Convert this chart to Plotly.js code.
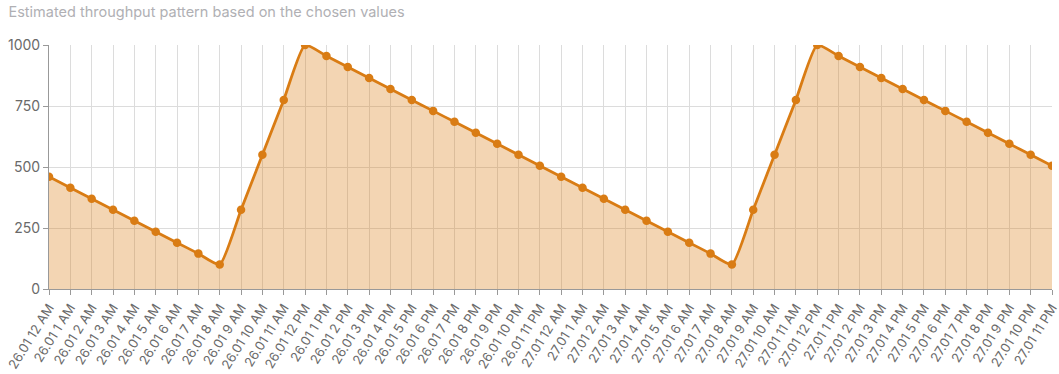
<!DOCTYPE html>
<html>
<head>
<meta charset="utf-8">
<script src="https://cdn.plot.ly/plotly-3.0.1.min.js"></script>
<style>html,body{margin:0;padding:0;background:#fff;}#chart{width:1059px;height:374px;}</style>
</head>
<body>
<div id="chart"></div>
<script>
const days = ["26.01", "27.01"];
const hours = ["12 AM","1 AM","2 AM","3 AM","4 AM","5 AM","6 AM","7 AM","8 AM","9 AM","10 AM","11 AM",
               "12 PM","1 PM","2 PM","3 PM","4 PM","5 PM","6 PM","7 PM","8 PM","9 PM","10 PM","11 PM"];
const categories = [];
days.forEach(d => hours.forEach(h => categories.push(d + " " + h)));

const throughputDay1 = [460, 415, 370, 325, 280, 235, 190, 145, 100, 325, 550, 775,
                        1000, 955, 910, 865, 820, 775, 730, 685, 640, 595, 550, 505];
const throughputDay2 = [460, 415, 370, 325, 280, 235, 190, 145, 100, 325, 550, 775,
                        1000, 955, 910, 865, 820, 775, 730, 685, 640, 595, 550, 505];
const throughput = throughputDay1.concat(throughputDay2);

const yTicks = [0, 250, 500, 750, 1000];

const trace = {
  x: categories,
  y: throughput,
  type: "scatter",
  mode: "lines+markers",
  fill: "tozeroy",
  fillcolor: "rgba(217,124,20,0.32)",
  line: {color: "#d97c14", width: 2.8, shape: "spline", smoothing: 0.5},
  marker: {color: "#d97c14", size: 8.5},
  hoverinfo: "x+y"
};

const layout = {
  width: 1059,
  height: 374,
  margin: {l: 49, r: 7, t: 45, b: 85},
  paper_bgcolor: "#fff",
  plot_bgcolor: "#fff",
  font: {family: "Inter, 'Noto Sans', sans-serif", color: "#666", size: 13},
  showlegend: false,
  title: {
    text: "Estimated throughput pattern based on the chosen values",
    x: 0.008, xanchor: "left", y: 0.968, yanchor: "middle",
    font: {size: 14.5, color: "#b0b0b4", family: "Inter, 'Noto Sans', sans-serif"}
  },
  xaxis: {
    type: "category",
    range: [0, categories.length - 1],
    tickangle: -58,
    showgrid: true,
    gridcolor: "#dcdcdc",
    gridwidth: 1,
    showline: true,
    linecolor: "#999",
    linewidth: 1,
    ticks: "outside",
    ticklen: 5,
    tickcolor: "#999",
    tickfont: {size: 13, color: "#6a6a6a"},
    zeroline: false,
    fixedrange: true
  },
  yaxis: {
    range: [0, 1000],
    tickvals: yTicks,
    showgrid: true,
    gridcolor: "#dcdcdc",
    gridwidth: 1,
    showline: true,
    linecolor: "#999",
    linewidth: 1,
    ticks: "outside",
    ticklen: 5,
    tickcolor: "#999",
    tickfont: {size: 14, color: "#6a6a6a"},
    zeroline: false,
    fixedrange: true
  }
};

Plotly.newPlot("chart", [trace], layout, {displayModeBar: false, staticPlot: true});
</script>
</body>
</html>
